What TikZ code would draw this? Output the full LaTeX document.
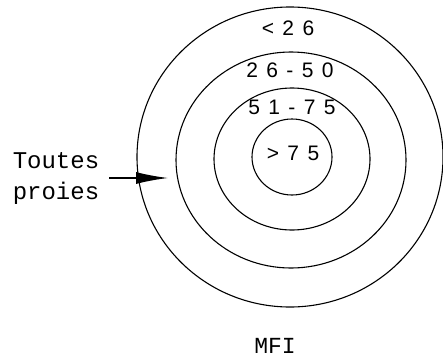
\documentclass[tikz,border=0pt]{standalone}
\usepackage{fontspec}
\usetikzlibrary{arrows.meta,positioning}
\newfontfamily\monofont{Liberation Mono}
\newfontfamily\numfont[LetterSpace=40]{Liberation Sans}

\begin{document}
\begin{tikzpicture}[x=1pt,y=-1pt,
    ring/.style={draw, line width=1.1pt},
    band/.style={font=\fontsize{21}{21}\selectfont\numfont, inner sep=0pt}]
    \useasboundingbox (0,0) rectangle (443,359);
    % rings, outer to inner
    \draw[ring] (290,157) ellipse [x radius=153, y radius=150];
    \draw[ring] (291,160) ellipse [x radius=115, y radius=108];
    \draw[ring] (292,159) ellipse [x radius=78, y radius=71];
    \draw[ring] (292,157) ellipse [x radius=40, y radius=38];
    % band labels
    \node[band] (lt26) at (288,28) {<26};
    \node[band] (b2650) at (290,70) {26-50};
    \node[band] (b5175) at (292,107) {51-75};
    \node[band] (gt75) at (293,153) {>75};
    % prey arrow
    \node[font=\fontsize{24}{31}\selectfont\monofont, align=left, inner sep=0pt] (prey) at (56,178) {Toutes\\proies};
    \coordinate (tip) at (168,178);
    \draw[line width=1.4pt, -{Latex[length=32pt,width=12pt]}] ([xshift=10pt]prey.east) -- (tip);
    \node[font=\fontsize{23}{23}\selectfont\monofont, inner sep=0pt] (mfi) at (275,346) {MFI};
  \end{tikzpicture}
\end{document}
